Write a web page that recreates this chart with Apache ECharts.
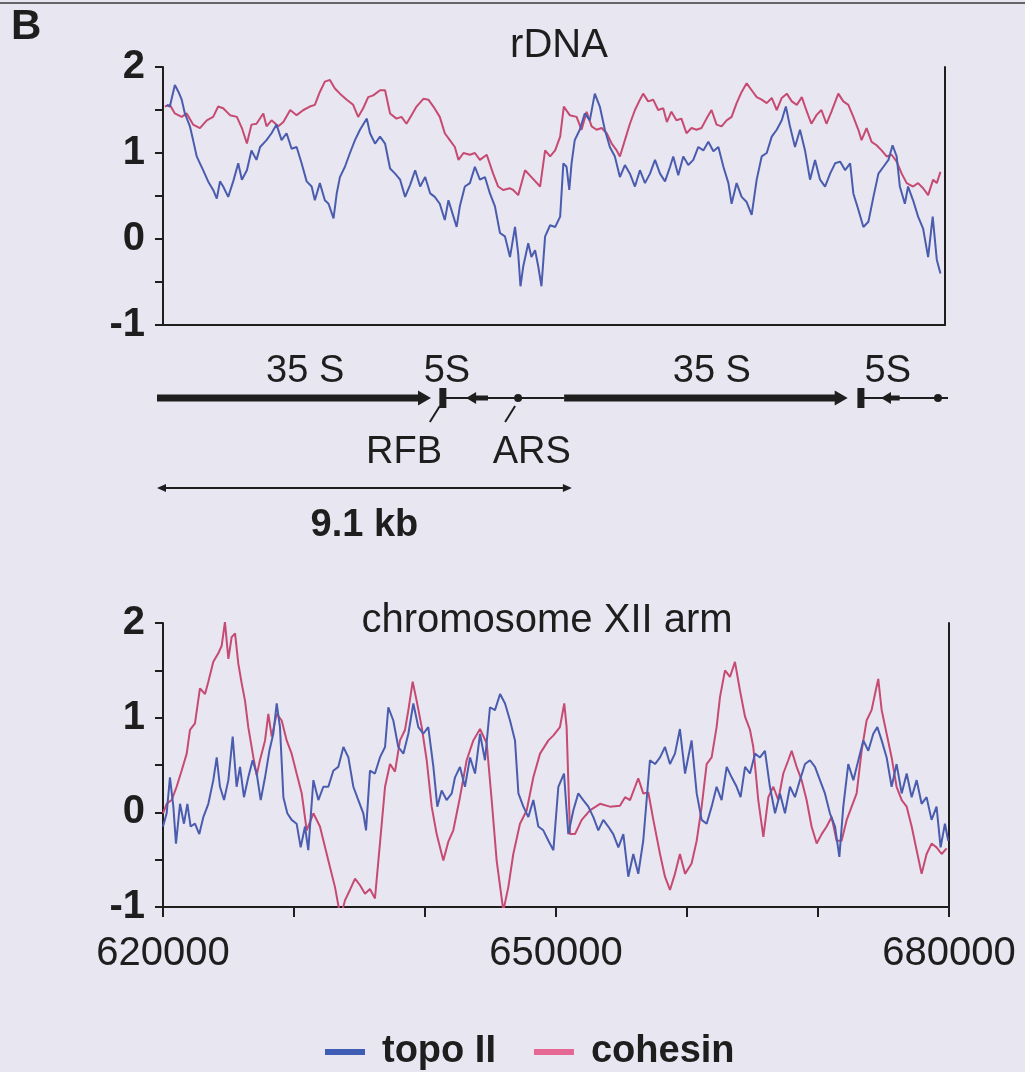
<!DOCTYPE html>
<html>
<head>
<meta charset="utf-8">
<script src="https://cdn.jsdelivr.net/npm/echarts@6/dist/echarts.min.js"></script>
<style>
	html, body {margin:0; padding:0; background:#e8e6f0;}
	#main {width:1025px; height:1072px;}
</style>
</head>
<body>
<div id="main"></div>
<script>
	// rDNA repeat, position in kb from the left edge of the plot
	var rdnaTopo = [[0.08,1.56],[0.15,1.54],[0.26,1.79],[0.34,1.71],[0.41,1.62],[0.48,1.46],[0.59,1.31],[0.66,1.15],[0.74,0.96],[0.81,0.88],[0.88,0.80],[0.99,0.67],[1.10,0.57],[1.18,0.47],[1.25,0.67],[1.32,0.61],[1.43,0.49],[1.54,0.67],[1.65,0.88],[1.73,0.69],[1.84,0.80],[1.94,1.03],[2.05,0.92],[2.13,1.07],[2.27,1.15],[2.38,1.23],[2.49,1.33],[2.60,1.15],[2.71,1.23],[2.82,1.05],[2.93,1.07],[3.04,0.88],[3.15,0.67],[3.26,0.61],[3.33,0.45],[3.44,0.65],[3.55,0.45],[3.63,0.41],[3.74,0.24],[3.81,0.53],[3.88,0.72],[3.99,0.84],[4.10,1.00],[4.21,1.15],[4.32,1.27],[4.47,1.40],[4.54,1.23],[4.65,1.11],[4.76,1.19],[4.87,1.11],[4.98,0.82],[5.09,0.76],[5.20,0.69],[5.31,0.49],[5.42,0.63],[5.53,0.80],[5.64,0.61],[5.75,0.72],[5.86,0.53],[5.96,0.49],[6.07,0.41],[6.18,0.22],[6.26,0.45],[6.37,0.26],[6.44,0.14],[6.51,0.38],[6.62,0.61],[6.73,0.65],[6.84,0.84],[6.95,0.69],[7.06,0.72],[7.17,0.53],[7.28,0.38],[7.39,0.07],[7.50,0.03],[7.61,-0.21],[7.72,0.14],[7.79,-0.17],[7.84,-0.55],[7.90,-0.32],[8.01,-0.05],[8.08,-0.21],[8.16,-0.13],[8.23,-0.32],[8.30,-0.55],[8.38,0.03],[8.49,0.16],[8.60,0.14],[8.71,0.26],[8.78,0.88],[8.85,0.84],[8.91,0.57],[8.96,0.88],[9.03,1.15],[9.14,1.27],[9.25,1.46],[9.36,1.38],[9.47,1.69],[9.58,1.54],[9.69,1.27],[9.80,1.07],[9.91,0.96],[10.02,0.72],[10.13,0.86],[10.24,0.76],[10.35,0.61],[10.46,0.80],[10.57,0.65],[10.68,0.76],[10.79,0.92],[10.90,0.76],[11.01,0.67],[11.12,0.84],[11.19,0.96],[11.30,0.74],[11.41,0.96],[11.52,0.86],[11.63,0.92],[11.74,1.07],[11.85,1.03],[11.96,1.13],[12.07,1.02],[12.18,1.07],[12.29,0.84],[12.40,0.65],[12.47,0.41],[12.58,0.65],[12.69,0.49],[12.80,0.43],[12.91,0.28],[13.02,0.69],[13.13,0.96],[13.24,1.00],[13.35,1.19],[13.46,1.27],[13.57,1.38],[13.66,1.54],[13.75,1.31],[13.86,1.07],[13.97,1.27],[14.08,1.03],[14.19,0.69],[14.30,0.92],[14.41,0.69],[14.52,0.61],[14.63,0.76],[14.74,0.88],[14.85,0.90],[14.96,0.80],[15.07,0.88],[15.14,0.53],[15.25,0.34],[15.36,0.14],[15.47,0.20],[15.58,0.49],[15.69,0.76],[15.80,0.84],[15.91,0.92],[16.00,1.09],[16.09,0.96],[16.16,0.61],[16.27,0.41],[16.34,0.61],[16.45,0.45],[16.56,0.26],[16.67,0.12],[16.78,-0.21],[16.88,0.26],[16.97,-0.24],[17.05,-0.40]];
	var rdnaCohesin = [[0.04,1.54],[0.15,1.56],[0.26,1.46],[0.41,1.42],[0.52,1.46],[0.66,1.33],[0.81,1.29],[0.96,1.38],[1.10,1.42],[1.21,1.54],[1.32,1.52],[1.47,1.44],[1.62,1.42],[1.73,1.29],[1.84,1.11],[1.94,1.33],[2.05,1.34],[2.20,1.46],[2.27,1.31],[2.38,1.38],[2.53,1.31],[2.64,1.36],[2.79,1.50],[2.93,1.44],[3.08,1.50],[3.22,1.54],[3.33,1.56],[3.44,1.71],[3.55,1.83],[3.66,1.85],[3.77,1.75],[3.88,1.69],[4.03,1.62],[4.17,1.56],[4.28,1.42],[4.39,1.52],[4.50,1.65],[4.61,1.67],[4.76,1.73],[4.87,1.73],[4.98,1.46],[5.12,1.40],[5.23,1.42],[5.34,1.34],[5.45,1.44],[5.56,1.54],[5.71,1.63],[5.82,1.62],[5.93,1.54],[6.07,1.42],[6.18,1.23],[6.29,1.15],[6.40,1.07],[6.48,0.92],[6.59,1.00],[6.73,0.98],[6.84,1.00],[6.95,0.92],[7.10,0.98],[7.24,0.76],[7.35,0.61],[7.46,0.57],[7.61,0.59],[7.68,0.57],[7.79,0.51],[7.94,0.80],[8.08,0.72],[8.27,0.61],[8.38,1.03],[8.49,0.96],[8.60,1.03],[8.71,1.19],[8.79,1.54],[8.92,1.44],[9.07,1.42],[9.18,1.27],[9.29,1.48],[9.40,1.31],[9.51,1.27],[9.62,1.29],[9.73,1.23],[9.84,1.11],[9.95,1.03],[10.02,0.96],[10.13,1.15],[10.24,1.34],[10.35,1.50],[10.46,1.62],[10.53,1.69],[10.64,1.60],[10.75,1.62],[10.86,1.50],[10.97,1.52],[11.05,1.36],[11.15,1.48],[11.26,1.38],[11.37,1.40],[11.48,1.23],[11.59,1.29],[11.70,1.27],[11.81,1.29],[11.92,1.40],[12.03,1.50],[12.14,1.33],[12.25,1.31],[12.36,1.38],[12.47,1.42],[12.58,1.58],[12.69,1.71],[12.80,1.81],[12.91,1.73],[13.02,1.65],[13.13,1.62],[13.24,1.58],[13.35,1.64],[13.46,1.50],[13.57,1.64],[13.68,1.69],[13.79,1.60],[13.90,1.56],[14.01,1.65],[14.12,1.48],[14.22,1.34],[14.33,1.44],[14.44,1.50],[14.55,1.34],[14.66,1.48],[14.81,1.69],[14.92,1.60],[15.03,1.56],[15.14,1.42],[15.25,1.27],[15.32,1.15],[15.43,1.29],[15.54,1.13],[15.65,1.09],[15.76,1.03],[15.87,0.96],[15.98,0.98],[16.09,0.90],[16.20,0.76],[16.31,0.65],[16.45,0.61],[16.56,0.65],[16.67,0.59],[16.78,0.51],[16.89,0.69],[16.97,0.65],[17.05,0.78]];

	// chromosome XII arm, position in kb
	var armTopo = [[620.0,-0.15],[620.28,-0.01],[620.53,0.37],[620.79,0.06],[620.99,-0.33],[621.30,0.09],[621.60,-0.12],[621.86,0.09],[622.11,-0.15],[622.44,-0.12],[622.77,-0.23],[623.08,-0.05],[623.46,0.09],[623.84,0.34],[624.10,0.58],[624.35,0.27],[624.66,0.13],[624.99,0.34],[625.32,0.80],[625.62,0.27],[625.88,0.48],[626.18,0.16],[626.51,0.37],[626.84,0.55],[627.15,0.41],[627.46,0.13],[627.79,0.37],[628.12,0.65],[628.42,0.83],[628.68,1.15],[628.93,0.90],[629.19,0.16],[629.49,-0.01],[629.82,-0.08],[630.20,-0.12],[630.51,-0.37],[630.84,-0.15],[631.09,-0.40],[631.48,0.34],[631.86,0.13],[632.24,0.27],[632.62,0.27],[633.00,0.44],[633.38,0.48],[633.77,0.69],[634.15,0.58],[634.53,0.27],[634.91,0.13],[635.29,-0.01],[635.50,-0.19],[635.80,0.44],[636.18,0.41],[636.56,0.58],[636.95,0.69],[637.20,1.11],[637.58,0.97],[637.96,0.69],[638.35,0.62],[638.73,0.83],[639.11,1.15],[639.49,0.90],[639.87,0.83],[640.25,0.90],[640.64,0.48],[640.94,0.06],[641.27,0.23],[641.65,0.13],[642.04,0.20],[642.29,0.37],[642.67,0.48],[643.05,0.27],[643.44,0.58],[643.82,0.41],[644.20,0.83],[644.58,0.55],[644.96,1.11],[645.34,1.08],[645.73,1.25],[646.11,1.15],[646.49,0.97],[646.87,0.76],[647.13,0.20],[647.51,0.06],[647.89,-0.05],[648.27,0.13],[648.65,-0.15],[649.03,-0.19],[649.42,-0.30],[649.80,-0.40],[650.18,0.27],[650.61,0.41],[650.94,-0.23],[651.32,0.02],[651.70,0.20],[652.08,0.13],[652.47,0.06],[652.85,-0.05],[653.23,-0.19],[653.61,-0.08],[653.99,-0.15],[654.37,-0.23],[654.76,-0.37],[655.14,-0.23],[655.52,-0.68],[655.90,-0.44],[656.28,-0.65],[656.66,-0.30],[657.17,0.55],[657.56,0.51],[657.94,0.58],[658.32,0.69],[658.70,0.51],[659.08,0.62],[659.46,0.88],[659.85,0.41],[660.35,0.76],[660.74,0.20],[661.12,-0.08],[661.50,-0.12],[661.88,0.06],[662.26,0.27],[662.64,0.13],[663.03,0.48],[663.41,0.37],[663.79,0.27],[664.09,0.16],[664.43,0.48],[664.81,0.41],[665.19,0.62],[665.57,0.58],[665.95,0.65],[666.33,0.27],[666.72,-0.01],[667.10,0.20],[667.48,-0.01],[667.86,0.27],[668.24,0.16],[668.62,0.34],[669.01,0.51],[669.39,0.55],[669.77,0.48],[670.15,0.34],[670.53,0.20],[670.91,-0.01],[671.30,-0.15],[671.63,-0.47],[671.93,0.06],[672.31,0.51],[672.70,0.34],[673.08,0.55],[673.46,0.76],[673.84,0.65],[674.22,0.83],[674.53,0.90],[674.86,0.76],[675.24,0.58],[675.62,0.27],[676.00,0.51],[676.39,0.20],[676.77,0.41],[677.15,0.16],[677.53,0.34],[677.91,0.09],[678.29,0.16],[678.67,-0.08],[679.05,0.06],[679.36,-0.37],[679.69,-0.12],[679.94,-0.30]];
	var armCohesin = [[620.0,-0.01],[620.28,0.09],[620.66,0.13],[621.04,0.27],[621.42,0.44],[621.81,0.62],[622.06,0.87],[622.44,0.94],[622.82,1.31],[623.21,1.25],[623.46,1.38],[623.84,1.59],[624.22,1.68],[624.48,1.76],[624.73,2.01],[624.99,1.62],[625.24,1.85],[625.50,1.89],[625.75,1.57],[626.01,1.36],[626.26,1.18],[626.51,0.90],[626.90,0.58],[627.15,0.39],[627.40,0.55],[627.79,0.76],[628.04,1.04],[628.30,0.80],[628.68,1.04],[629.06,0.97],[629.44,0.76],[629.82,0.62],[630.20,0.41],[630.59,0.20],[630.97,-0.19],[631.48,-0.01],[631.98,-0.15],[632.37,-0.37],[632.75,-0.58],[633.13,-0.79],[633.38,-0.98],[633.56,-1.11],[633.89,-0.93],[634.27,-0.82],[634.66,-0.70],[635.04,-0.77],[635.42,-0.86],[635.80,-0.81],[636.18,-0.91],[636.56,-0.33],[636.95,0.27],[637.33,0.51],[637.71,0.43],[638.09,0.76],[638.47,0.87],[638.73,1.08],[639.06,1.38],[639.36,1.18],[639.75,0.90],[640.13,0.55],[640.51,0.06],[640.89,-0.23],[641.40,-0.51],[641.78,-0.31],[642.16,-0.19],[642.67,0.16],[643.18,0.55],[643.69,0.76],[644.20,0.88],[644.71,0.73],[645.09,0.13],[645.47,-0.51],[645.98,-1.04],[646.36,-0.79],[646.74,-0.44],[647.25,-0.12],[647.76,0.02],[648.27,0.37],[648.78,0.62],[649.42,0.76],[649.79,0.81],[650.30,0.90],[650.63,1.15],[650.81,0.90],[651.07,-0.23],[651.45,-0.23],[651.96,-0.08],[652.59,0.02],[653.36,0.09],[654.12,0.06],[654.88,0.07],[655.27,0.16],[655.65,0.13],[656.28,0.36],[656.66,0.20],[657.05,0.21],[657.43,-0.08],[657.94,-0.44],[658.32,-0.68],[658.70,-0.82],[659.08,-0.65],[659.46,-0.44],[659.85,-0.65],[660.35,-0.54],[660.74,-0.30],[661.12,0.06],[661.50,0.51],[661.88,0.58],[662.26,0.90],[662.52,1.22],[662.90,1.50],[663.28,1.43],[663.66,1.59],[664.04,1.29],[664.43,1.01],[664.81,0.87],[665.06,0.69],[665.44,0.13],[665.83,-0.26],[666.21,0.16],[666.59,0.27],[666.97,0.13],[667.35,0.41],[667.73,0.55],[667.99,0.65],[668.37,0.48],[668.75,0.34],[669.13,0.13],[669.51,-0.15],[669.90,-0.33],[670.28,-0.23],[670.66,-0.15],[671.04,-0.05],[671.42,-0.30],[671.80,-0.30],[672.19,-0.08],[672.57,0.06],[672.95,0.20],[673.33,0.65],[673.71,0.97],[674.09,1.08],[674.35,1.25],[674.60,1.41],[674.86,1.08],[675.24,0.83],[675.62,0.58],[676.00,0.27],[676.39,0.13],[676.77,0.06],[677.15,-0.15],[677.53,-0.40],[677.91,-0.65],[678.29,-0.44],[678.67,-0.33],[679.05,-0.37],[679.44,-0.44],[679.82,-0.38]];
	var armTickLabels = [620, 650, 680];

	// rDNA repeat map, in kb
	var geneSpans = [[0, 6.01], [8.93, 15.15]];
	var fiveSSpans = [[7.26, 6.78], [16.29, 15.88]];
	var spacerSpans = [[6.27, 8.93], [15.44, 17.35]];
	var rfbKb = [6.27, 15.44];
	var arsKb = [7.92, 17.13];
	var geneNames = ['35 S', '5S', '35 S', '5S'];
	var geneNameKb = [3.25, 6.36, 12.17, 16.03];
	var siteNames = ['RFB', 'ARS'];
	var siteNameKb = [[5.42, 6.27], [8.22, 7.92]];  // label position, site it points to
	var scaleBarKb = [0, 9.1];
	var scaleBarName = '9.1 kb';

	var FONT = "'Liberation Sans', Arial, sans-serif";
	var INK = '#1e1e1e';
	var BLUE = '#4a5cae';
	var RED = '#c64a72';

	function arrow(x0, x1, y, half, headLen, headHalf) {
		var d = x1 > x0 ? 1 : -1;
		var hb = x1 - d * headLen;
		return [[x0, y - half], [hb, y - half], [hb, y - headHalf], [x1, y], [hb, y + headHalf], [hb, y + half], [x0, y + half]];
	}

	function spanRender(kind) {
		return function (params, api) {
			var a = api.coord([api.value(0), 1]);
			var b = api.coord([api.value(1), 1]);
			if (kind === 'spacer') {
				return {type: 'line', shape: {x1: a[0], y1: a[1], x2: b[0], y2: b[1]}, style: {stroke: INK, lineWidth: 2}};
			}
			if (kind === 'gene') {
				return {type: 'polygon', shape: {points: arrow(a[0], b[0], a[1], 3.5, 13, 7.5)}, style: {fill: INK}};
			}
			return {type: 'polygon', shape: {points: arrow(a[0], b[0], a[1], 2.5, 10, 6)}, style: {fill: INK}};
		};
	}

	function siteRender(kind) {
		return function (params, api) {
			var p = api.coord([api.value(0), 1]);
			if (kind === 'rfb') {
				return {type: 'rect', shape: {x: p[0] - 3.5, y: p[1] - 10, width: 7, height: 20}, style: {fill: INK}};
			}
			return {type: 'circle', shape: {cx: p[0], cy: p[1], r: 4}, style: {fill: INK}};
		};
	}

	function textRender(names, dy, weight) {
		return function (params, api) {
			var p = api.coord([api.value(0), 1]);
			return {type: 'text', x: p[0], y: p[1] + dy, style: {text: names[params.dataIndex], fontFamily: FONT, fontSize: 38, fontWeight: weight, fill: INK, align: 'center', verticalAlign: 'middle'}};
		};
	}

	function siteLabelRender(params, api) {
		var p = api.coord([api.value(0), 1]);
		var s = api.coord([api.value(1), 1]);
		return {type: 'group', children: [
			{type: 'line', shape: {x1: s[0] - 3, y1: s[1] + 8, x2: s[0] - 13, y2: s[1] + 24}, style: {stroke: INK, lineWidth: 2}},
			{type: 'text', x: p[0], y: p[1] + 55, style: {text: siteNames[params.dataIndex], fontFamily: FONT, fontSize: 38, fill: INK, align: 'center', verticalAlign: 'middle'}}
		]};
	}

	function scaleRender(params, api) {
		var a = api.coord([api.value(0), 0]);
		var b = api.coord([api.value(1), 0]);
		var y = a[1];
		return {type: 'group', children: [
			{type: 'line', shape: {x1: a[0] + 4, y1: y, x2: b[0] - 4, y2: y}, style: {stroke: INK, lineWidth: 2}},
			{type: 'polygon', shape: {points: [[a[0], y], [a[0] + 9, y - 4], [a[0] + 9, y + 4]]}, style: {fill: INK}},
			{type: 'polygon', shape: {points: [[b[0], y], [b[0] - 9, y - 4], [b[0] - 9, y + 4]]}, style: {fill: INK}},
			{type: 'text', x: (a[0] + b[0]) / 2, y: y + 38, style: {text: scaleBarName, fontFamily: FONT, fontSize: 38, fontWeight: 'bold', fill: INK, align: 'center', verticalAlign: 'middle'}}
		]};
	}

	var yAxisBase = {
		type: 'value', min: -1, max: 2, interval: 0.5,
		axisLine: {show: true, lineStyle: {color: INK, width: 2}},
		axisTick: {show: true, length: 8, lineStyle: {color: INK, width: 2}},
		axisLabel: {
			margin: 18, fontFamily: FONT, fontSize: 40, fontWeight: 'bold', color: INK,
			formatter: function (v) { return v % 1 === 0 ? String(v) : ''; }
		},
		splitLine: {show: false}
	};
	var rightLine = {
		type: 'value', min: -1, max: 2, position: 'right',
		axisLine: {show: true, lineStyle: {color: INK, width: 2}},
		axisTick: {show: false}, axisLabel: {show: false}, splitLine: {show: false}
	};
	var hidden = {show: false};

	var myChart = echarts.init(document.getElementById('main'));
	var option = {
		backgroundColor: '#e8e6f0',
		animation: false,
		textStyle: {fontFamily: FONT},
		graphic: [
			{type: 'line', shape: {x1: 0, y1: 3, x2: 1025, y2: 3}, style: {stroke: '#3a3a3a', lineWidth: 1.5}},
			{type: 'text', x: 11, y: 27, style: {text: 'B', fontFamily: FONT, fontSize: 42, fontWeight: 'bold', fill: INK, verticalAlign: 'middle'}},
			{type: 'text', x: 559, y: 46, style: {text: 'rDNA', fontFamily: FONT, fontSize: 40, fill: INK, align: 'center', verticalAlign: 'middle'}},
			{type: 'text', x: 547, y: 621, style: {text: 'chromosome XII arm', fontFamily: FONT, fontSize: 40, fill: INK, align: 'center', verticalAlign: 'middle'}}
		],
		legend: {
			left: 320, top: 1028, itemWidth: 40, itemHeight: 6, itemGap: 38, icon: 'rect',
			textStyle: {fontFamily: FONT, fontSize: 38, fontWeight: 'bold', color: INK, padding: [0, 0, 0, 12]},
			data: ['topo II', 'cohesin']
		},
		grid: [
			{left: 163, top: 67, width: 782, height: 258, outerBoundsMode: 'none'},
			{left: 163, top: 623, width: 786, height: 284, outerBoundsMode: 'none'},
			{left: 157, top: 398, width: 791, height: 90, outerBoundsMode: 'none'}
		],
		xAxis: [
			{type: 'value', gridIndex: 0, min: 0, max: 17.15,
				axisLine: {show: true, onZero: false, lineStyle: {color: INK, width: 2}},
				axisTick: hidden, axisLabel: hidden, splitLine: hidden},
			{type: 'value', gridIndex: 1, min: 620, max: 680, interval: 10,
				axisLine: {show: true, onZero: false, lineStyle: {color: INK, width: 2}},
				axisTick: {show: true, length: 10, lineStyle: {color: INK, width: 2}},
				axisLabel: {margin: 27, fontFamily: FONT, fontSize: 40, color: INK,
					formatter: function (v) { return armTickLabels.indexOf(v) >= 0 ? String(v * 1000) : ''; }},
				splitLine: hidden},
			{type: 'value', gridIndex: 2, min: 0, max: 17.35, show: false}
		],
		yAxis: [
			Object.assign({gridIndex: 0}, yAxisBase),
			Object.assign({gridIndex: 0}, rightLine),
			Object.assign({gridIndex: 1}, yAxisBase),
			Object.assign({gridIndex: 1}, rightLine),
			{type: 'value', gridIndex: 2, min: 0, max: 1, show: false}
		],
		series: [
			{name: 'topo II', type: 'line', xAxisIndex: 0, yAxisIndex: 0, data: rdnaTopo, showSymbol: false,
				itemStyle: {color: '#3f5db4'}, lineStyle: {color: BLUE, width: 2}, z: 3},
			{name: 'cohesin', type: 'line', xAxisIndex: 0, yAxisIndex: 0, data: rdnaCohesin, showSymbol: false,
				itemStyle: {color: '#e46794'}, lineStyle: {color: RED, width: 2}, z: 2},
			{name: 'topo II', type: 'line', xAxisIndex: 1, yAxisIndex: 2, data: armTopo, showSymbol: false,
				itemStyle: {color: '#3f5db4'}, lineStyle: {color: BLUE, width: 2}, z: 3},
			{name: 'cohesin', type: 'line', xAxisIndex: 1, yAxisIndex: 2, data: armCohesin, showSymbol: false,
				itemStyle: {color: '#e46794'}, lineStyle: {color: RED, width: 2}, z: 2},
			{type: 'custom', xAxisIndex: 2, yAxisIndex: 4, renderItem: spanRender('spacer'), data: spacerSpans, encode: {x: [0, 1]}, silent: true},
			{type: 'custom', xAxisIndex: 2, yAxisIndex: 4, renderItem: spanRender('gene'), data: geneSpans, encode: {x: [0, 1]}, silent: true},
			{type: 'custom', xAxisIndex: 2, yAxisIndex: 4, renderItem: spanRender('fiveS'), data: fiveSSpans, encode: {x: [0, 1]}, silent: true},
			{type: 'custom', xAxisIndex: 2, yAxisIndex: 4, renderItem: siteRender('rfb'), data: rfbKb.map(function (v) { return [v]; }), encode: {x: 0}, silent: true},
			{type: 'custom', xAxisIndex: 2, yAxisIndex: 4, renderItem: siteRender('ars'), data: arsKb.map(function (v) { return [v]; }), encode: {x: 0}, silent: true},
			{type: 'custom', xAxisIndex: 2, yAxisIndex: 4, renderItem: textRender(geneNames, -26, 'normal'), data: geneNameKb.map(function (v) { return [v]; }), encode: {x: 0}, silent: true},
			{type: 'custom', xAxisIndex: 2, yAxisIndex: 4, renderItem: siteLabelRender, data: siteNameKb, encode: {x: [0, 1]}, silent: true},
			{type: 'custom', xAxisIndex: 2, yAxisIndex: 4, renderItem: scaleRender, data: [scaleBarKb], encode: {x: [0, 1]}, silent: true}
		]
	};
	myChart.setOption(option);
</script>
</body>
</html>
